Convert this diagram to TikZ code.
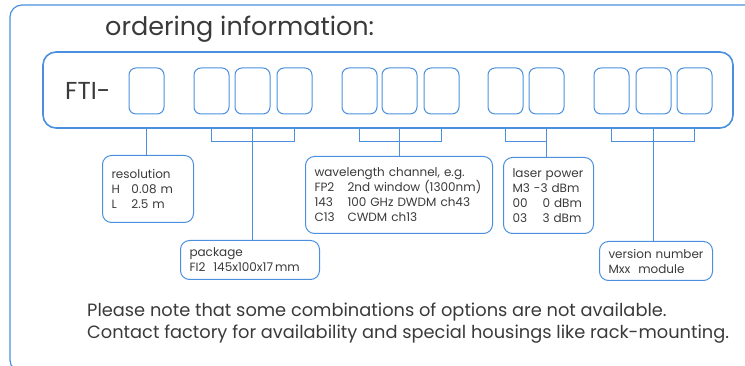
\documentclass[tikz,border=0pt]{standalone}
\usepackage{fontspec}
\setmainfont{Poppins}
\definecolor{frameblue}{RGB}{74,144,222}
\definecolor{textgray}{RGB}{58,58,58}

\begin{document}
\begin{tikzpicture}[x=1pt,y=-1pt,
    stem/.style={draw=frameblue,line width=1.4pt},
    bracket/.style={draw=frameblue,line width=0.9pt},
    digit/.style={draw=frameblue,line width=1pt,rounded corners=7pt,minimum width=35pt,minimum height=46pt,inner sep=0pt},
    infobox/.style={draw=frameblue,line width=1pt,rounded corners=9pt,anchor=north west,align=left,inner xsep=9pt,inner ysep=0pt,font=\fontsize{12}{15}\selectfont,text=textgray}]
  \useasboundingbox (0,0) rectangle (745,366);
  % outer frame
  \draw[frameblue,line width=1.2pt,rounded corners=12pt] (760,5) -- (10,5) -- (10,372) -- (40,372);
  \node[anchor=base west,inner sep=0pt,text=textgray,font=\fontsize{25.5}{25.5}\selectfont] (title) at (105,36) {ordering information:};
  % code bar
  \node[draw=frameblue,line width=1.6pt,rounded corners=13pt,minimum width=690pt,minimum height=76pt] (bar) at (388,90) {};
  \node[anchor=west,inner sep=0pt,text=textgray,font=\fontsize{24.5}{24.5}\selectfont] (fti) at (65,91) {FTI-};
  \foreach \x [count=\i] in {146.5,211.5,252.5,294.5,359.5,399.5,441.5,505.5,546.5,611.5,653.5,694.5}
    \node[digit] (b\i) at (\x,91) {};
  % option boxes
  \node[infobox,text width=73pt,minimum height=67pt] (res) at (102,155)
    {resolution\\\makebox[20pt][l]{H}0.08 m\\\makebox[20pt][l]{L}2.5 m};
  \node[infobox,text width=121pt,minimum height=39pt] (pkg) at (180,240)
    {package\\FI2\ \ 145x100x17\,mm};
  \node[infobox,text width=169pt,minimum height=77pt] (wl) at (305,156)
    {wavelength channel, e.g.\\\makebox[33pt][l]{FP2}2nd window (1300nm)\\\makebox[33pt][l]{143}100 GHz DWDM ch43\\\makebox[33pt][l]{C13}CWDM ch13};
  \node[infobox,text width=72pt,minimum height=76pt] (laser) at (503,157)
    {laser power\\M3 -3 dBm\\\makebox[30pt][l]{00}0 dBm\\\makebox[30pt][l]{03}3 dBm};
  \node[infobox,text width=95pt,minimum height=39pt] (ver) at (599,241)
    {version number\\Mxx\ \ module};
  % connectors
  \draw[stem] (b1 |- bar.south) -- (b1 |- res.north);
  \draw[bracket] (b2 |- bar.south) -- ++(0,13) -| (b4 |- bar.south);
  \draw[stem] (b3 |- bar.south) -- (b3 |- pkg.north);
  \draw[bracket] (b5 |- bar.south) -- ++(0,13) -| (b7 |- bar.south);
  \draw[stem] (b6 |- bar.south) -- (b6 |- wl.north);
  \draw[bracket] (b8 |- bar.south) -- ++(0,13) -| (b9 |- bar.south);
  \draw[stem] (b9 |- bar.south) -- (b9 |- laser.north);
  \draw[bracket] (b10 |- bar.south) -- ++(0,13) -| (b12 |- bar.south);
  \draw[stem] (b11 |- bar.south) -- (b11 |- ver.north);
  % footer note
  \node[anchor=base west,inner sep=0pt,align=left,text=textgray,font=\fontsize{17.8}{23}\selectfont] (note) at (87,339)
    {Please note that some combinations of options are not available.\\Contact factory for availability and special housings like rack-mounting.};
\end{tikzpicture}
\end{document}
